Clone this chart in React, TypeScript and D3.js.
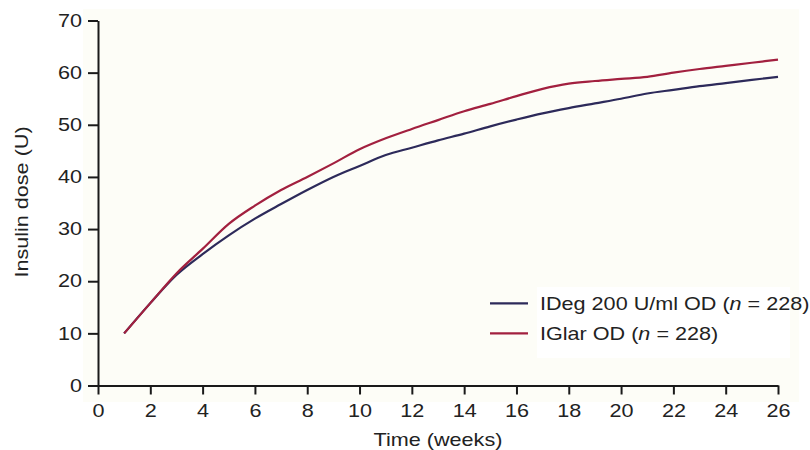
import React, { useEffect, useRef } from "react";
import * as d3 from "d3";

// weeks 1..26
const weeks = [1, 2, 3, 4, 5, 6, 7, 8, 9, 10, 11, 12, 13, 14, 15, 16, 17, 18, 19, 20, 21, 22, 23, 24, 25, 26];
const ideg = [10, 15.8, 21.2, 25.2, 28.8, 32.0, 34.8, 37.5, 40.0, 42.1, 44.2, 45.6, 47.0, 48.3, 49.7, 51.0, 52.2, 53.2, 54.1, 55.0, 56.0, 56.7, 57.4, 58.0, 58.6, 59.2];
const iglar = [10, 15.8, 21.5, 26.2, 31.0, 34.5, 37.5, 40.0, 42.6, 45.3, 47.4, 49.2, 50.9, 52.6, 54.0, 55.5, 56.9, 57.9, 58.4, 58.8, 59.2, 60.0, 60.7, 61.3, 61.9, 62.5];
const xTicks = [0, 2, 4, 6, 8, 10, 12, 14, 16, 18, 20, 22, 24, 26];
const yTicks = [0, 10, 20, 30, 40, 50, 60, 70];
const seriesNames = ["IDeg 200 U/ml OD", "IGlar OD"];

const W = 810;
const H = 450;
const FONT = "'Liberation Sans', Arial, sans-serif";
const FS = "18px";
const SX = 1.2; // the source text is a bit wide

export default function App() {
  const ref = useRef<SVGSVGElement>(null);

  useEffect(() => {
    document.body.style.margin = "0";
    const svg = d3.select(ref.current);
    svg.selectAll("*").remove();

    const x = d3.scaleLinear().domain([0, 26]).range([98, 778]);
    const y = d3.scaleLinear().domain([0, 70]).range([385.5, 20.5]);

    // background panel
    svg.append("rect").attr("x", 83).attr("y", 9).attr("width", 716).attr("height", 393).attr("fill", "#fdfdf7");
    svg.append("rect").attr("x", 537).attr("y", 287).attr("width", 253).attr("height", 71).attr("fill", "#ffffff");

    const xAxis = svg.append("g")
      .attr("transform", `translate(0,${y(0)})`)
      .call(d3.axisBottom(x).tickValues(xTicks).tickSize(9).tickPadding(10).tickSizeOuter(0));
    const yAxis = svg.append("g")
      .attr("transform", `translate(${x(0)},0)`)
      .call(d3.axisLeft(y).tickValues(yTicks).tickSize(10).tickPadding(6).tickSizeOuter(0));

    [xAxis, yAxis].forEach((g) => {
      g.select(".domain").attr("stroke", "#1a1a1a").attr("stroke-width", 2);
      g.selectAll(".tick line").attr("stroke", "#1a1a1a").attr("stroke-width", 2);
      g.selectAll(".tick text").attr("fill", "#222").style("font-size", FS).style("font-family", FONT);
    });
    xAxis.selectAll(".tick text").attr("transform", `scale(${SX},1)`);
    yAxis.selectAll(".tick text").attr("x", -16 / SX).attr("transform", `scale(${SX},1)`);

    const line = d3.line<number>()
      .x((d, i) => x(weeks[i]))
      .y((d) => y(d))
      .curve(d3.curveMonotoneX);

    const colors = ["#2d2a5a", "#a2203f"];
    [ideg, iglar].forEach((data, k) => {
      svg.append("path")
        .datum(data)
        .attr("fill", "none")
        .attr("stroke", colors[k])
        .attr("stroke-width", 2.2)
        .attr("d", line);
    });

    // legend
    seriesNames.forEach((name, k) => {
      const ly = 303.3 + k * 30;
      svg.append("line")
        .attr("x1", 490).attr("x2", 528)
        .attr("y1", ly).attr("y2", ly)
        .attr("stroke", colors[k]).attr("stroke-width", 2.2);
      const t = svg.append("text")
        .attr("transform", `translate(540,${ly + 6.5}) scale(${SX},1)`)
        .attr("fill", "#222")
        .style("font-size", FS)
        .style("font-family", FONT);
      t.append("tspan").text(`${name} (`);
      t.append("tspan").attr("font-style", "italic").text("n");
      t.append("tspan").text(" = 228)");
    });

    svg.append("text")
      .attr("transform", `translate(28,202) rotate(-90) scale(${SX},1)`)
      .attr("text-anchor", "middle")
      .attr("fill", "#222")
      .style("font-size", FS)
      .style("font-family", FONT)
      .text("Insulin dose (U)");

    svg.append("text")
      .attr("transform", `translate(438,446) scale(${SX},1)`)
      .attr("text-anchor", "middle")
      .attr("fill", "#222")
      .style("font-size", FS)
      .style("font-family", FONT)
      .text("Time (weeks)");
  }, []);

  return <svg ref={ref} width={W} height={H} style={{ display: "block", background: "#fff" }} />;
}
